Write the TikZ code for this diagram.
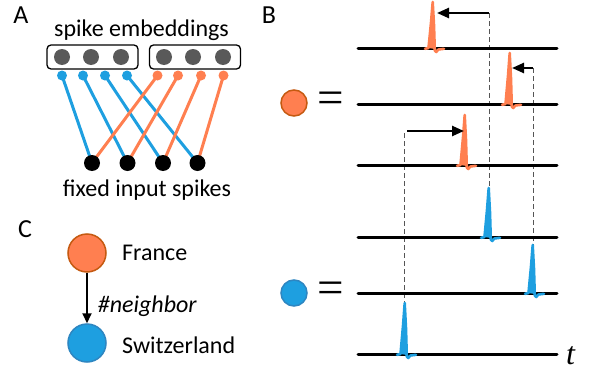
\documentclass[tikz,border=0pt]{standalone}
\usepackage{fontspec}
\setmainfont{Carlito}
\newfontfamily\eqfont{Liberation Serif}
\usetikzlibrary{arrows.meta,backgrounds}
\definecolor{orng}{HTML}{FF7F50}
\definecolor{orngdark}{HTML}{C55A11}
\definecolor{blu}{HTML}{1E9FE0}
\definecolor{bludark}{HTML}{2E86C1}
\definecolor{emb}{HTML}{595959}
\definecolor{dashgray}{HTML}{555555}
\tikzset{
  txt/.style={font=\fontsize{24}{28}\selectfont, inner sep=0pt},
  panel/.style={font=\fontsize{26}{30}\selectfont, inner sep=0pt, anchor=base},
  embbox/.style={draw, line width=1.3pt, rounded corners=4pt, minimum width=91pt, minimum height=24pt, inner sep=0pt},
  embdot/.style={circle, fill=emb, minimum size=16pt, inner sep=0pt},
  bdot/.style={circle, fill=blu, minimum size=10pt, inner sep=0pt},
  odot/.style={circle, fill=orng, minimum size=10pt, inner sep=0pt},
  kdot/.style={circle, fill=black, minimum size=16pt, inner sep=0pt},
  bwire/.style={blu, line width=3pt},
  owire/.style={orng, line width=3pt},
  timeline/.style={line width=3pt, line cap=round},
  guide/.style={dashgray, line width=1pt, dash pattern=on 5pt off 3pt},
  shift arrow/.style={line width=2.4pt, -{Triangle[length=12pt,width=10pt]}},
  orangeball/.style={circle, fill=orng, draw=orngdark, line width=1.5pt, inner sep=0pt},
  blueball/.style={circle, fill=blu, draw=bludark, line width=1.5pt, inner sep=0pt},
  eqsign/.style={font=\eqfont\fontsize{47}{50}\selectfont, inner sep=0pt},
  pics/spike/.style args={#1/#2}{code={
    \fill[#1] (-4.5,0) -- (-2,-0.55*#2) -- (-0.3,-#2) -- (1,-0.5*#2) -- (1.8,1) -- cycle;
    \draw[#1, line width=2.6pt, line join=round, line cap=round]
      (-8,0.8) -- (-4.5,0) -- (-2,-0.55*#2) -- (-0.3,-#2) -- (1,-0.5*#2)
      -- (1.8,2.5) -- (3.2,4) -- (5.5,1.5) -- (11,0.8);
  }}
}
\begin{document}
\begin{tikzpicture}[x=1pt,y=-1pt]
\useasboundingbox (0,0) rectangle (590,375);

% ---------------- Panel A ----------------
\node[panel] (labA) at (21,23.5) {A};
\node[txt, anchor=base] (title) at (141.5,36) {spike embeddings};
\node[embbox] (box1) at (92.5,57) {};
\node[embbox] (box2) at (195,57) {};
\node[embdot] (g1) at (62,57) {};
\node[embdot] (g2) at (91,57) {};
\node[embdot] (g3) at (121,57) {};
\node[embdot] (g4) at (164,57) {};
\node[embdot] (g5) at (193,57) {};
\node[embdot] (g6) at (223,57) {};

\node[bdot] (b1) at (62,75.5) {};
\node[bdot] (b2) at (83,75.5) {};
\node[bdot] (b3) at (105,75.5) {};
\node[bdot] (b4) at (127,75.5) {};
\node[odot] (o1) at (157.5,75.5) {};
\node[odot] (o2) at (178,75.5) {};
\node[odot] (o3) at (201,75.5) {};
\node[odot] (o4) at (223.5,75.5) {};

\node[kdot] (k1) at (92,163) {};
\node[kdot] (k2) at (127.5,163) {};
\node[kdot] (k3) at (163,163) {};
\node[kdot] (k4) at (197.5,163) {};

\begin{scope}[on background layer]
  \foreach \i in {1,...,4} \draw[bwire] (b\i.center) -- (k\i.center);
  \foreach \i in {1,...,4} \draw[owire] (o\i.center) -- (k\i.center);
\end{scope}

\node[txt, anchor=base] (fixed) at (147,196.5) {fixed input spikes};

% ---------------- Panel C ----------------
\node[panel] (labC) at (25,237) {C};
\node[orangeball, minimum size=38pt] (fr) at (87,253) {};
\node[blueball, minimum size=38pt] (sw) at (87,343) {};
\node[txt, anchor=base west] (frtxt) at (122,260) {France};
\node[txt, anchor=base west] (swtxt) at (122,353) {Switzerland};
\draw[line width=1.8pt, -{Triangle[length=10pt,width=9pt]}] (fr) -- (sw)
  node[midway, txt, anchor=base west, font=\fontsize{24}{28}\selectfont\itshape, yshift=-14pt, xshift=10pt] (rel) {\#neighbor};

% ---------------- Panel B ----------------
\node[panel] (labB) at (269,23.5) {B};
\node[orangeball, minimum size=26pt] (oc) at (294,103) {};
\node[blueball, minimum size=26pt] (bc) at (294,293) {};
\node[eqsign] (eq1) at (331,103) {=};
\node[eqsign] (eq2) at (331,293) {=};

% guide (dashed) lines
\coordinate (d1top) at (489,13);   \coordinate (d1bot) at (489,186);
\coordinate (d2top) at (533,68);   \coordinate (d2bot) at (533,246);
\coordinate (d3top) at (404,133);  \coordinate (d3bot) at (404,305);
\draw[guide] (d1top) -- (d1bot);
\draw[guide] (d2top) -- (d2bot);
\draw[guide] (d3top) -- (d3bot);

% time lines
\foreach \n/\yy in {1/48,2/104,3/165,4/237,5/293,6/354}{
  \coordinate (t\n a) at (358,\yy);
  \coordinate (t\n b) at (557,\yy);
  \draw[timeline] (t\n a) -- (t\n b);
}
\node[font=\eqfont\itshape\fontsize{32}{36}\selectfont, inner sep=0pt, anchor=base west] (tlab) at (566,364) {t};

% spikes
\pic at (433,48) {spike={orng/46}};
\pic at (510,104) {spike={orng/51}};
\pic at (465,165) {spike={orng/50}};
\pic at (489,237) {spike={blu/49}};
\pic at (533,293) {spike={blu/48}};
\pic at (405,354) {spike={blu/51}};

% shift arrows
\coordinate (a1tip) at (437,13);
\coordinate (a2tip) at (512,68);
\coordinate (a3tail) at (407,131);
\coordinate (a3tip) at (464,131);
\draw[shift arrow] (d1top) -- (a1tip);
\draw[shift arrow] (d2top) -- (a2tip);
\draw[shift arrow] (a3tail) -- (a3tip);
\end{tikzpicture}
\end{document}
